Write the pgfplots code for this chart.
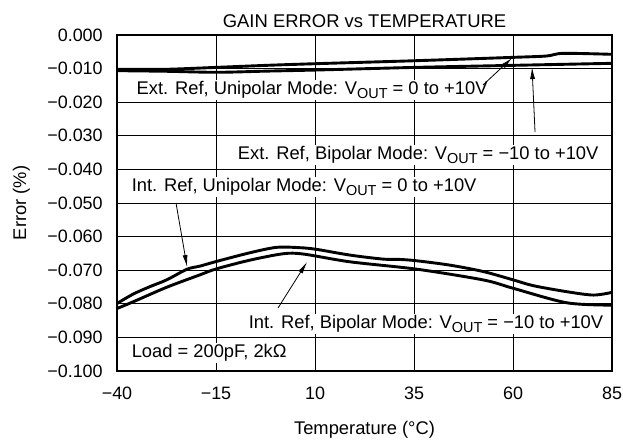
\documentclass[border=0pt]{standalone}
\usepackage{fontspec}
\setmainfont{Liberation Sans}
\usepackage{pgfplots}
\pgfplotsset{compat=1.18}
\usetikzlibrary{arrows.meta}
\newcommand\sub[1]{\raisebox{-0.4ex}{\fontsize{14.5}{14.5}\selectfont #1}}
\begin{document}
\fontsize{18.4}{22}\selectfont
\begin{tikzpicture}[
  lbl/.style={fill=white, inner sep=1.5bp, font=\fontsize{18.4}{22}\selectfont},
  arr/.style={-{Latex[length=12bp,width=5bp]}, line width=0.8bp, black},
  crv/.style={black, line width=2.9bp, smooth},
]
\begin{axis}[
  width=495bp, height=336bp, scale only axis,
  xmin=-40, xmax=85, ymin=-0.1, ymax=0,
  xtick={-40,-15,10,35,60,85},
  xticklabels={−40,−15,10,35,60,85},
  ytick={-0.1,-0.09,-0.08,-0.07,-0.06,-0.05,-0.04,-0.03,-0.02,-0.01,0},
  yticklabels={−0.100,−0.090,−0.080,−0.070,−0.060,−0.050,−0.040,−0.030,−0.020,−0.010,0.000},
  major tick length=0pt,
  grid=major,
  major grid style={black, line width=0.8bp},
  axis line style={black, line width=2.3bp},
  tick label style={font=\fontsize{18}{21}\selectfont},
  xticklabel style={yshift=-10bp},
  yticklabel style={xshift=-8bp},
  xlabel={Temperature (°C)},
  ylabel={Error (\%)},
  xlabel style={font=\fontsize{18.4}{22}\selectfont, yshift=-9bp},
  ylabel style={font=\fontsize{18.4}{22}\selectfont, yshift=5bp},
  title={GAIN ERROR vs TEMPERATURE},
  title style={font=\fontsize{18.5}{22}\selectfont, yshift=-5bp},
  clip=false,
]
% Ext. Ref, Unipolar
\addplot[crv] coordinates {(-40,-0.01022) (-27.5,-0.01020) (-14.8,-0.00963) (-2.2,-0.00903) (10.4,-0.00853) (35.7,-0.00764) (60.1,-0.00665) (68.5,-0.00625) (72.7,-0.00546) (85,-0.00575)};
% Ext. Ref, Bipolar
\addplot[crv] coordinates {(-40,-0.01062) (-27.5,-0.01080) (-14.8,-0.01110) (-2.2,-0.01075) (10.4,-0.01042) (35.7,-0.00963) (60.1,-0.00903) (85,-0.00843)};
% Int. Ref, Unipolar
\addplot[crv] coordinates {(-40,-0.0799) (-35.9,-0.0771) (-31.7,-0.0749) (-27.5,-0.0729) (-22.3,-0.0697) (-19.1,-0.0688) (-14.9,-0.0674) (-6.4,-0.0648) (0.3,-0.0632) (6.2,-0.0633) (10.4,-0.0638) (18.8,-0.0655) (27.2,-0.0667) (31.5,-0.0668) (35.7,-0.0672) (44.1,-0.0685) (52.5,-0.0704) (60.1,-0.0729) (65.1,-0.0746) (73.6,-0.0764) (80.3,-0.0774) (85,-0.0766)};
% Int. Ref, Bipolar
\addplot[crv] coordinates {(-40,-0.0814) (-35.9,-0.0794) (-27.5,-0.0751) (-19.1,-0.0714) (-14.9,-0.0696) (-6.4,-0.0670) (2.0,-0.0651) (7.1,-0.0652) (18.8,-0.0675) (35.7,-0.0697) (52.5,-0.0729) (60.1,-0.0754) (73.6,-0.0797) (85,-0.0804)};

\node[lbl, anchor=west] at (axis cs:-35.45,-0.01637) {Ext. Ref, Unipolar Mode: V\sub{OUT} = 0 to +10V};
\node[lbl, anchor=east] at (axis cs:82.0,-0.0357) {Ext. Ref, Bipolar Mode: V\sub{OUT} = −10 to +10V};
\node[lbl, anchor=west] at (axis cs:-36.7,-0.04524) {Int. Ref, Unipolar Mode: V\sub{OUT} = 0 to +10V};
\node[lbl, anchor=east] at (axis cs:83.2,-0.0860) {Int. Ref, Bipolar Mode: V\sub{OUT} = −10 to +10V};
\node[lbl, anchor=west] at (axis cs:-36.7,-0.09464) {Load = 200pF, 2kΩ};

\draw[arr] (axis cs:52.42,-0.01488) -- (axis cs:59.75,-0.00685);
\draw[arr] (axis cs:65.56,-0.02887) -- (axis cs:64.8,-0.00952);
\draw[arr] (axis cs:-25.1,-0.0500) -- (axis cs:-22.3,-0.06905);
\draw[arr] (axis cs:0.66,-0.08125) -- (axis cs:7.98,-0.06756);
\end{axis}
\pgfresetboundingbox
\path (current axis.south west) ++(-117bp,-70bp) rectangle ++(623bp,441bp);
\end{tikzpicture}
\end{document}
